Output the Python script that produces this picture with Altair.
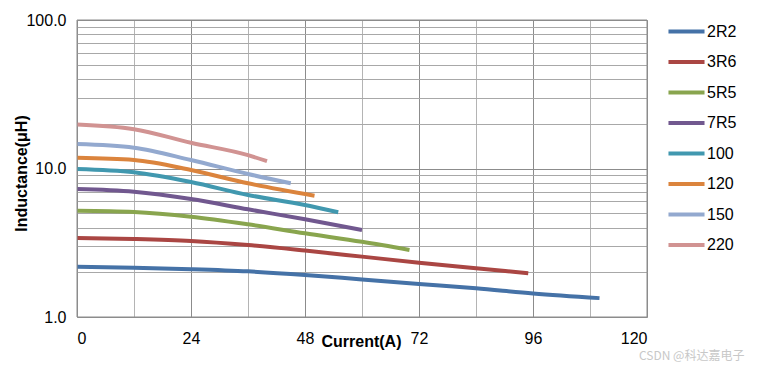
import altair as alt
import pandas as pd

series = ["2R2", "3R6", "5R5", "7R5", "100", "120", "150", "220"]
colors = ["#4572A7", "#AA4643", "#89A54E", "#71588F", "#4198AF", "#DB843D", "#93A9CF", "#D19392"]

cur_2R2 = [0, 12, 24, 36, 48, 60, 72, 84, 96, 110]
ind_2R2 = [2.18, 2.15, 2.10, 2.03, 1.92, 1.79, 1.67, 1.56, 1.44, 1.34]
cur_3R6 = [0, 12, 24, 36, 48, 60, 72, 84, 95]
ind_3R6 = [3.40, 3.35, 3.25, 3.05, 2.80, 2.55, 2.32, 2.13, 1.97]
cur_5R5 = [0, 12, 24, 36, 48, 60, 70]
ind_5R5 = [5.20, 5.10, 4.74, 4.21, 3.66, 3.21, 2.83]
cur_7R5 = [0, 12, 24, 36, 48, 60]
ind_7R5 = [7.28, 6.98, 6.23, 5.31, 4.55, 3.85]
cur_100 = [0, 12, 24, 36, 48, 55]
ind_100 = [9.93, 9.43, 8.11, 6.63, 5.68, 5.07]
cur_120 = [0, 12, 24, 36, 50]
ind_120 = [11.8, 11.4, 9.77, 7.95, 6.56]
cur_150 = [0, 12, 24, 36, 45]
ind_150 = [14.6, 13.8, 11.4, 9.18, 7.95]
cur_220 = [0, 12, 24, 36, 40]
ind_220 = [19.8, 18.4, 14.9, 12.3, 11.2]

x_ticks = [0, 12, 24, 36, 48, 60, 72, 84, 96, 108, 120]
y_ticks = [1, 2, 3, 4, 5, 6, 7, 8, 9, 10, 20, 30, 40, 50, 60, 70, 80, 90, 100]

curves = {
    "2R2": (cur_2R2, ind_2R2), "3R6": (cur_3R6, ind_3R6), "5R5": (cur_5R5, ind_5R5),
    "7R5": (cur_7R5, ind_7R5), "100": (cur_100, ind_100), "120": (cur_120, ind_120),
    "150": (cur_150, ind_150), "220": (cur_220, ind_220),
}
rows = []
for s in series:
    xs, ys = curves[s]
    for i, (a, b) in enumerate(zip(xs, ys)):
        rows.append({"series": s, "current": a, "inductance": b, "order": i})
df = pd.DataFrame(rows)

FONT = "Liberation Sans"
FS = 16

x_grid_color = {"condition": {"test": "datum.value % 24 == 0", "value": "#8C8C8C"}, "value": "#B4B4B4"}
y_grid_color = {"condition": {"test": "datum.value == 1 || datum.value == 10 || datum.value == 100", "value": "#8C8C8C"}, "value": "#A8A8A8"}

lines = alt.Chart(df).mark_line(strokeWidth=4, interpolate="monotone", clip=True).encode(
    x=alt.X("current:Q",
            scale=alt.Scale(domain=[0, 120], nice=False),
            axis=alt.Axis(values=x_ticks,
                          labelExpr="datum.value % 24 == 0 ? datum.label : ''",
                          title="Current(A)", titleFontWeight="bold", titleFontSize=FS,
                          titleFont=FONT, titleColor="#000", titleY=16, titleBaseline="top",
                          titleX=284,
                          labelFont=FONT, labelFontSize=FS, labelColor="#000",
                          labelPadding=13, ticks=False, domain=False,
                          gridColor=x_grid_color, gridWidth=1, gridOpacity=1)),
    y=alt.Y("inductance:Q",
            scale=alt.Scale(type="log", domain=[1, 100], nice=False),
            axis=alt.Axis(values=y_ticks,
                          labelExpr="(datum.value == 1 || datum.value == 10 || datum.value == 100) ? format(datum.value, '.1f') : ''",
                          title="Inductance(μH)", titleFontWeight="bold", titleFontSize=FS,
                          titleFont=FONT, titleColor="#000", titleX=-48, titleY=153,
                          labelFont=FONT, labelFontSize=FS, labelColor="#000",
                          labelPadding=11, ticks=False, domain=False,
                          gridColor=y_grid_color, gridWidth=1, gridOpacity=1)),
    color=alt.Color("series:N", scale=alt.Scale(domain=series, range=colors),
                    legend=alt.Legend(title=None, orient="none", legendX=589, legendY=-9,
                                      symbolType="stroke", symbolStrokeWidth=4,
                                      symbolSize=1300, labelFont=FONT, labelFontSize=FS,
                                      labelColor="#000", rowPadding=1.5, labelOffset=0)),
    order="order:Q",
)

frame = alt.Chart(pd.DataFrame({"a": [0]})).mark_rect(
    fill=None, stroke="#8C8C8C", strokeWidth=1
).encode(x=alt.value(0), x2=alt.value(570), y=alt.value(0), y2=alt.value(297))

wm = alt.Chart(pd.DataFrame({"t": ["CSDN @科达嘉电子"]})).mark_text(
    font="Noto Sans CJK SC", fontSize=12, color="#C8C8C8", align="left", baseline="middle"
).encode(text="t:N", x=alt.value(562), y=alt.value(336))

chart = alt.layer(lines, frame, wm).properties(
    width=570, height=297,
    autosize=alt.AutoSizeParams(type="none"),
    padding={"left": 69, "top": 12, "right": 109, "bottom": 45},
).configure_view(stroke=None).configure(font=FONT)

chart.save("out.html", embed_options={"renderer": "svg", "actions": False})
